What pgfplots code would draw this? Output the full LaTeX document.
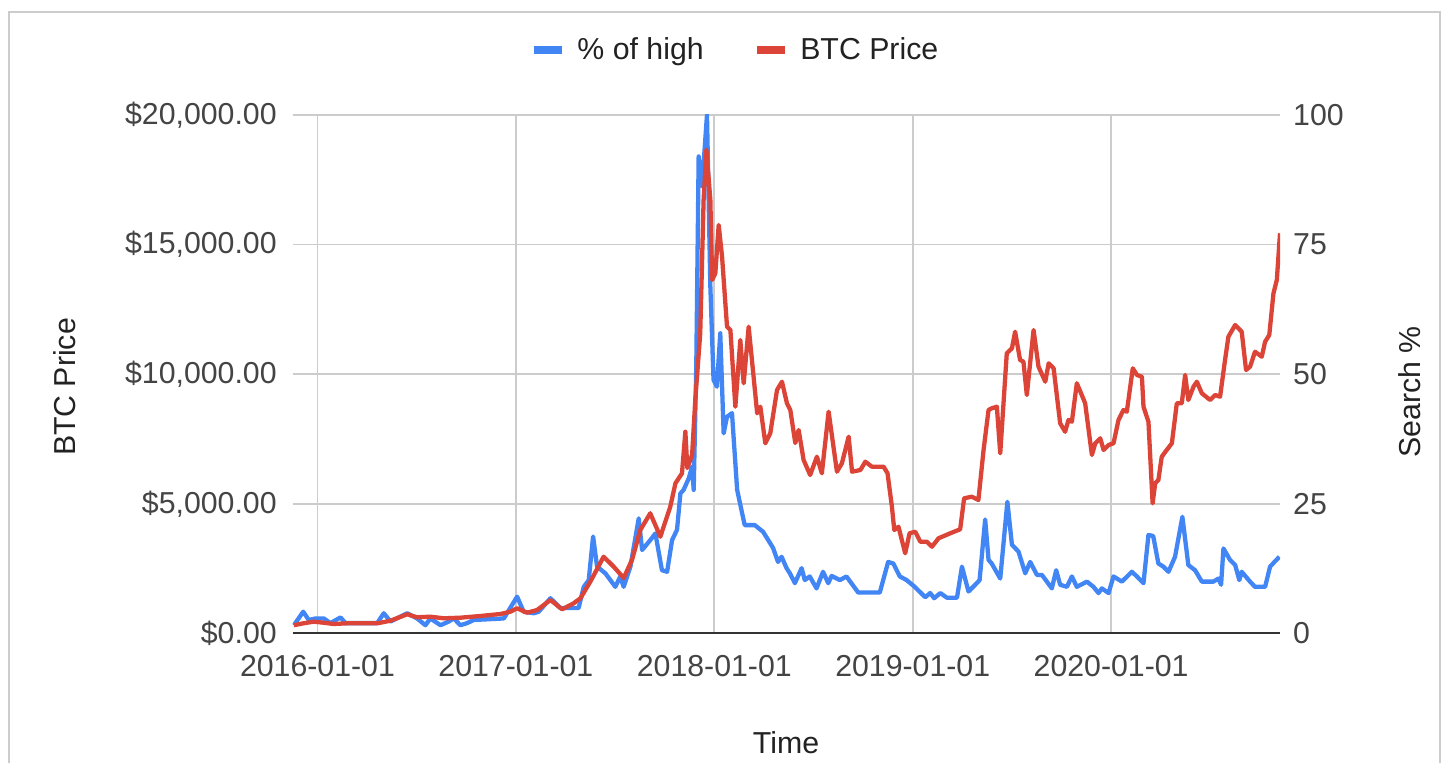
\documentclass[border=0pt]{standalone}
\usepackage{pgfplots}
\pgfplotsset{compat=1.18}
\usepackage{pgfplotstable}
\usepackage{fontspec}
\setmainfont{Liberation Sans}
\definecolor{gblue}{HTML}{4285F4}
\definecolor{gred}{HTML}{DB4437}
\definecolor{gridc}{HTML}{CCCCCC}
\definecolor{labc}{HTML}{444444}
\definecolor{titc}{HTML}{222222}
\definecolor{basec}{HTML}{333333}
\newcommand{\cfont}{\fontsize{10.6}{12.5}\selectfont}
\pgfplotsset{legend image code/.code={\fill[#1,draw=none] (0pt,-1.3pt) rectangle (9.8pt,1.3pt); \path (0pt,0pt) (12.5pt,0pt);}}
\pgfplotsset{chartbase/.style={scale only axis, width=345.625pt, height=181.475pt,
  at={(102.375pt,45.325pt)}, anchor=south west, xmin=2015.874, xmax=2020.851,
  axis line style={draw=none}, major tick length=0pt, tick style={draw=none},
  ticklabel style={font=\cfont, text=labc},
  scaled y ticks=false, scaled x ticks=false,
  /pgf/number format/assume math mode=true}}

\pgfplotstableread{
yr pct
2015.881 1.6
2015.928 4.2
2015.956 2.6
2015.990 2.9
2016.032 2.9
2016.065 2.0
2016.116 3.1
2016.141 2.0
2016.301 2.0
2016.334 3.9
2016.368 2.3
2016.452 3.9
2016.502 2.9
2016.544 1.6
2016.569 2.9
2016.620 1.6
2016.661 2.3
2016.687 2.9
2016.720 1.6
2016.754 2.0
2016.787 2.6
2016.939 2.9
2017.006 7.1
2017.039 4.2
2017.090 3.9
2017.115 4.2
2017.174 6.8
2017.224 4.9
2017.316 4.9
2017.342 9.0
2017.367 10.3
2017.389 18.7
2017.409 12.9
2017.451 11.6
2017.476 10.3
2017.501 9.0
2017.526 11.0
2017.543 9.0
2017.577 12.9
2017.619 22.2
2017.636 16.1
2017.677 18.0
2017.703 19.3
2017.736 12.2
2017.762 11.9
2017.787 18.0
2017.812 20.0
2017.829 27.0
2017.845 27.7
2017.871 29.9
2017.888 32.2
2017.896 27.7
2017.909 51.5
2017.921 92.0
2017.938 86.2
2017.963 100
2017.980 66.9
2017.996 48.9
2018.013 47.6
2018.030 57.9
2018.047 38.6
2018.064 41.8
2018.089 42.5
2018.115 27.7
2018.153 20.9
2018.204 20.9
2018.246 19.6
2018.296 16.5
2018.321 13.8
2018.339 14.8
2018.364 12.6
2018.381 11.6
2018.406 9.7
2018.440 12.6
2018.456 10.3
2018.481 11.0
2018.515 8.7
2018.548 11.9
2018.574 9.7
2018.591 11.1
2018.633 10.3
2018.666 11.0
2018.725 7.9
2018.834 7.9
2018.876 13.8
2018.902 13.5
2018.935 11.0
2018.969 10.3
2019.010 9.0
2019.063 7.0
2019.088 7.8
2019.108 6.8
2019.139 7.8
2019.172 6.9
2019.223 6.9
2019.248 12.9
2019.281 8.1
2019.315 9.4
2019.337 10.3
2019.365 22.0
2019.382 14.2
2019.398 13.5
2019.441 10.6
2019.477 25.4
2019.500 17.1
2019.533 15.8
2019.567 11.6
2019.592 13.8
2019.626 11.3
2019.651 11.3
2019.701 8.7
2019.723 12.2
2019.743 9.4
2019.777 9.0
2019.802 11.0
2019.827 9.0
2019.878 10.0
2019.911 9.0
2019.936 7.8
2019.953 8.7
2019.987 7.8
2020.012 11.0
2020.054 10.0
2020.104 11.9
2020.130 11.0
2020.163 9.7
2020.188 19.0
2020.212 18.8
2020.238 13.5
2020.263 12.9
2020.289 11.9
2020.322 14.8
2020.359 22.5
2020.389 13.2
2020.423 12.2
2020.457 10.0
2020.515 10.0
2020.541 10.6
2020.554 9.4
2020.566 16.4
2020.599 14.2
2020.625 13.2
2020.646 10.3
2020.658 11.9
2020.700 10.0
2020.725 9.0
2020.776 9.0
2020.801 12.9
2020.848 14.8
}\searchdata

\pgfplotstableread{
yr price
2015.881 320
2015.929 393
2015.980 455
2016.030 417
2016.081 366
2016.151 393
2016.302 393
2016.368 494
2016.452 741
2016.502 625
2016.569 648
2016.635 586
2016.720 609
2016.821 675
2016.922 752
2016.972 841
2017.006 972
2017.056 802
2017.107 906
2017.174 1292
2017.233 933
2017.291 1165
2017.325 1358
2017.375 1998
2017.442 2962
2017.493 2576
2017.543 2141
2017.585 2835
2017.627 3992
2017.677 4636
2017.728 3734
2017.778 4891
2017.804 5793
2017.837 6179
2017.854 7783
2017.864 6383
2017.888 6885
2017.904 9006
2017.929 11579
2017.946 16720
2017.960 18649
2017.980 16720
2017.989 13635
2018.005 13893
2018.022 15756
2018.039 14533
2018.064 11833
2018.081 11706
2018.106 8748
2018.131 11321
2018.148 9650
2018.173 11833
2018.216 8493
2018.232 8748
2018.257 7336
2018.282 7722
2018.316 9392
2018.341 9712
2018.366 8879
2018.383 8620
2018.408 7348
2018.425 7849
2018.450 6692
2018.483 6113
2018.517 6819
2018.542 6179
2018.576 8555
2018.618 6241
2018.643 6565
2018.677 7591
2018.694 6241
2018.736 6306
2018.761 6626
2018.794 6434
2018.853 6434
2018.873 6179
2018.895 4891
2018.907 3992
2018.928 4119
2018.962 3093
2018.984 3865
2019.013 3926
2019.038 3541
2019.071 3541
2019.097 3348
2019.130 3672
2019.189 3865
2019.239 4019
2019.259 5215
2019.298 5276
2019.331 5149
2019.357 7078
2019.382 8620
2019.398 8686
2019.424 8748
2019.441 6950
2019.474 10807
2019.500 11000
2019.516 11640
2019.541 10549
2019.558 10483
2019.575 9199
2019.609 11706
2019.634 10290
2019.668 9712
2019.685 10422
2019.710 10229
2019.743 8107
2019.768 7783
2019.785 8235
2019.802 8169
2019.827 9650
2019.852 9199
2019.869 8879
2019.903 6885
2019.920 7336
2019.945 7529
2019.962 7078
2019.987 7271
2020.012 7336
2020.037 8235
2020.062 8620
2020.079 8555
2020.109 10229
2020.130 9970
2020.155 9905
2020.163 8748
2020.188 8169
2020.209 5022
2020.222 5793
2020.238 5921
2020.255 6819
2020.280 7078
2020.306 7336
2020.331 8879
2020.356 8879
2020.373 9970
2020.389 9006
2020.415 9519
2020.432 9712
2020.457 9265
2020.499 9006
2020.524 9199
2020.549 9133
2020.574 10549
2020.591 11448
2020.625 11899
2020.658 11640
2020.680 10163
2020.700 10290
2020.725 10869
2020.759 10676
2020.776 11255
2020.797 11513
2020.818 13121
2020.835 13635
2020.851 15436
}\pricedata

\begin{document}
\begin{tikzpicture}
\useasboundingbox (0,0) rectangle (506.45pt,267.05pt);
\fill[white] (0,0) rectangle (506.45pt,267.05pt);
\draw[gridc, line width=0.7pt] (2.975pt,-5pt) -- (2.975pt,262.85pt) -- (504pt,262.85pt) -- (504pt,-5pt);

\begin{axis}[chartbase,
  ymin=0, ymax=100, ytick={0,25,50,75,100}, yticklabel pos=right,
  yticklabel style={xshift=1.1pt},
  xtick={2016,2017,2018,2019,2020},
  xticklabels={2016-01-01,2017-01-01,2018-01-01,2019-01-01,2020-01-01},
  xticklabel style={yshift=-4pt},
  grid=major, major grid style={gridc, line width=0.6pt},
  legend style={at={(0.451,1.125)}, anchor=center, draw=none, fill=none,
    font=\cfont, text=titc,
    /tikz/every even column/.append style={column sep=15.8pt}},
  legend columns=2, legend cell align=left]
\addplot[gblue, line width=1.5pt, line join=round] table[x=yr, y=pct] {\searchdata};
\addlegendentry{\% of high}
\addlegendimage{gred, line width=1.5pt}
\addlegendentry{BTC Price}
\end{axis}

\begin{axis}[chartbase,
  ymin=0, ymax=20000, ytick={0,5000,10000,15000,20000},
  yticklabels={\$0.00,{\$5,000.00},{\$10,000.00},{\$15,000.00},{\$20,000.00}},
  yticklabel pos=left, yticklabel style={xshift=-2pt},
  xtick=\empty]
\addplot[gred, line width=1.5pt, line join=round] table[x=yr, y=price] {\pricedata};
\draw[basec, line width=0.75pt] (rel axis cs:0,0) -- (rel axis cs:1,0);
\end{axis}

\node[rotate=90, text=titc, font=\cfont] at (22.75pt,131.6pt) {BTC Price};
\node[rotate=90, text=titc, font=\cfont] at (493.5pt,129.85pt) {Search \%};
\node[text=titc, font=\cfont] at (275.1pt,7pt) {Time};
\end{tikzpicture}
\end{document}
